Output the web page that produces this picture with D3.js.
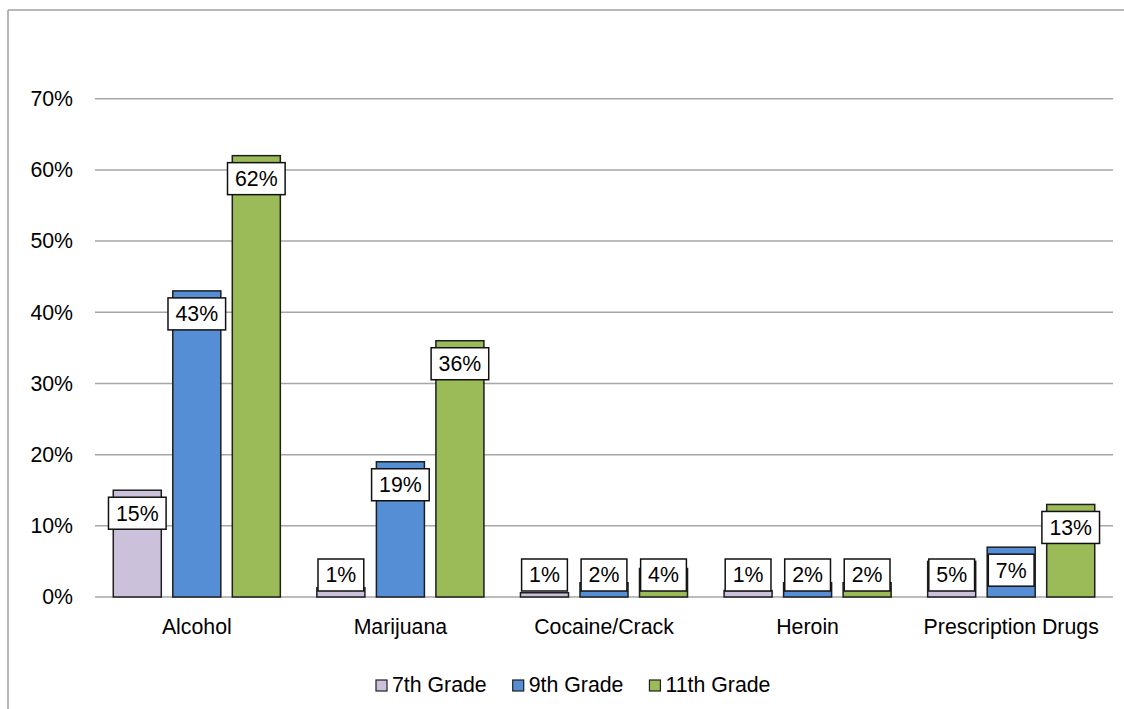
<!DOCTYPE html>
<html>
<head>
<meta charset="utf-8">
<script src="https://cdn.jsdelivr.net/npm/d3@7"></script>
<style>
  html, body { margin: 0; padding: 0; background: #fff; }
  svg { display: block; font-family: "Liberation Sans", Arial, sans-serif; }
</style>
</head>
<body>
<svg id="chart" width="1124" height="709"></svg>
<script>
// ---- data ----
const categories = ["Alcohol", "Marijuana", "Cocaine/Crack", "Heroin", "Prescription Drugs"];
const seriesNames = ["7th Grade", "9th Grade", "11th Grade"];
const grade7 = [15, 1.3, 0.6, 0.9, 5];
const grade9 = [43, 19, 2, 2, 7];
const grade11 = [62, 36, 4, 2, 13];
const yTicks = [0, 10, 20, 30, 40, 50, 60, 70];
const seriesColors = ["#ccc1da", "#558ed5", "#9bbb59"];

const seriesValues = [grade7, grade9, grade11];

const svg = d3.select("#chart");
const W = 1124, H = 709;
const FS = 21.3;

// outer border (left & top visible)
svg.append("line").attr("x1", 8).attr("x2", 8).attr("y1", 10).attr("y2", H)
  .attr("stroke", "#a0a0a0").attr("stroke-width", 1.5);
svg.append("line").attr("x1", 8).attr("x2", W).attr("y1", 10).attr("y2", 10)
  .attr("stroke", "#a0a0a0").attr("stroke-width", 1.5);

const plot = { left: 95, right: 1113, top: 98.7, bottom: 597 };

const y = d3.scaleLinear().domain([0, 70]).range([plot.bottom, plot.top]);
const x0 = d3.scaleBand().domain(categories).range([plot.left, plot.right]).padding(0);
const x1 = d3.scaleBand().domain(seriesNames).range([0, x0.bandwidth()])
  .paddingInner(0.193).paddingOuter(0.307);

// gridlines
const gridG = svg.append("g");
gridG.selectAll("line").data(yTicks).join("line")
  .attr("x1", plot.left).attr("x2", plot.right)
  .attr("y1", d => y(d)).attr("y2", d => y(d))
  .attr("stroke", "#a6a6a6").attr("stroke-width", 1.5);

// y axis labels
const yAxis = d3.axisLeft(y).tickValues(yTicks).tickSize(0).tickPadding(22)
  .tickFormat(d => d + "%");
const yG = svg.append("g").attr("transform", `translate(${plot.left},0)`).call(yAxis);
yG.select(".domain").remove();
yG.selectAll("text").attr("font-size", FS).attr("fill", "#000")
  .attr("font-family", "'Liberation Sans', Arial, sans-serif");

// x axis labels
const xAxis = d3.axisBottom(x0).tickSize(0).tickPadding(22);
const xG = svg.append("g").attr("transform", `translate(0,${plot.bottom})`).call(xAxis);
xG.select(".domain").remove();
xG.selectAll("text").attr("font-size", FS).attr("fill", "#000")
  .attr("font-family", "'Liberation Sans', Arial, sans-serif");

// bars
const flat = [];
categories.forEach((c, ci) => {
  seriesNames.forEach((s, si) => {
    flat.push({ cat: c, ser: s, si, value: seriesValues[si][ci] });
  });
});

const barsG = svg.append("g");
barsG.selectAll("rect").data(flat).join("rect")
  .attr("x", d => x0(d.cat) + x1(d.ser))
  .attr("width", x1.bandwidth())
  .attr("y", d => y(d.value))
  .attr("height", d => y(0) - y(d.value))
  .attr("fill", d => seriesColors[d.si])
  .attr("stroke", "#1e1e1e").attr("stroke-width", 1.5);

// data labels
const labelsG = svg.append("g");
const boxH = 32;
flat.forEach(d => {
  const txt = Math.round(d.value) + "%";
  const cx = x0(d.cat) + x1(d.ser) + x1.bandwidth() / 2;
  const top = Math.min(y(d.value) + 7, y(0) - 6 - boxH);
  const g = labelsG.append("g");
  const t = g.append("text").attr("x", cx).attr("y", top + boxH / 2)
    .attr("dy", "0.35em").attr("text-anchor", "middle")
    .attr("font-size", FS).attr("fill", "#000").text(txt);
  const w = t.node().getComputedTextLength() + 15;
  g.insert("rect", "text").attr("x", cx - w / 2).attr("y", top)
    .attr("width", w).attr("height", boxH)
    .attr("fill", "#fff").attr("stroke", "#111").attr("stroke-width", 1.5);
});

// legend
const legG = svg.append("g");
let lx = 376;
const ly = 692;
seriesNames.forEach((s, i) => {
  legG.append("rect").attr("x", lx).attr("y", ly - 12).attr("width", 11).attr("height", 11)
    .attr("fill", seriesColors[i]).attr("stroke", "#1e1e1e").attr("stroke-width", 1.2);
  const t = legG.append("text").attr("x", lx + 16).attr("y", ly)
    .attr("font-size", FS).attr("fill", "#000").text(s);
  lx += 16 + t.node().getComputedTextLength() + 26;
});
</script>
</body>
</html>
